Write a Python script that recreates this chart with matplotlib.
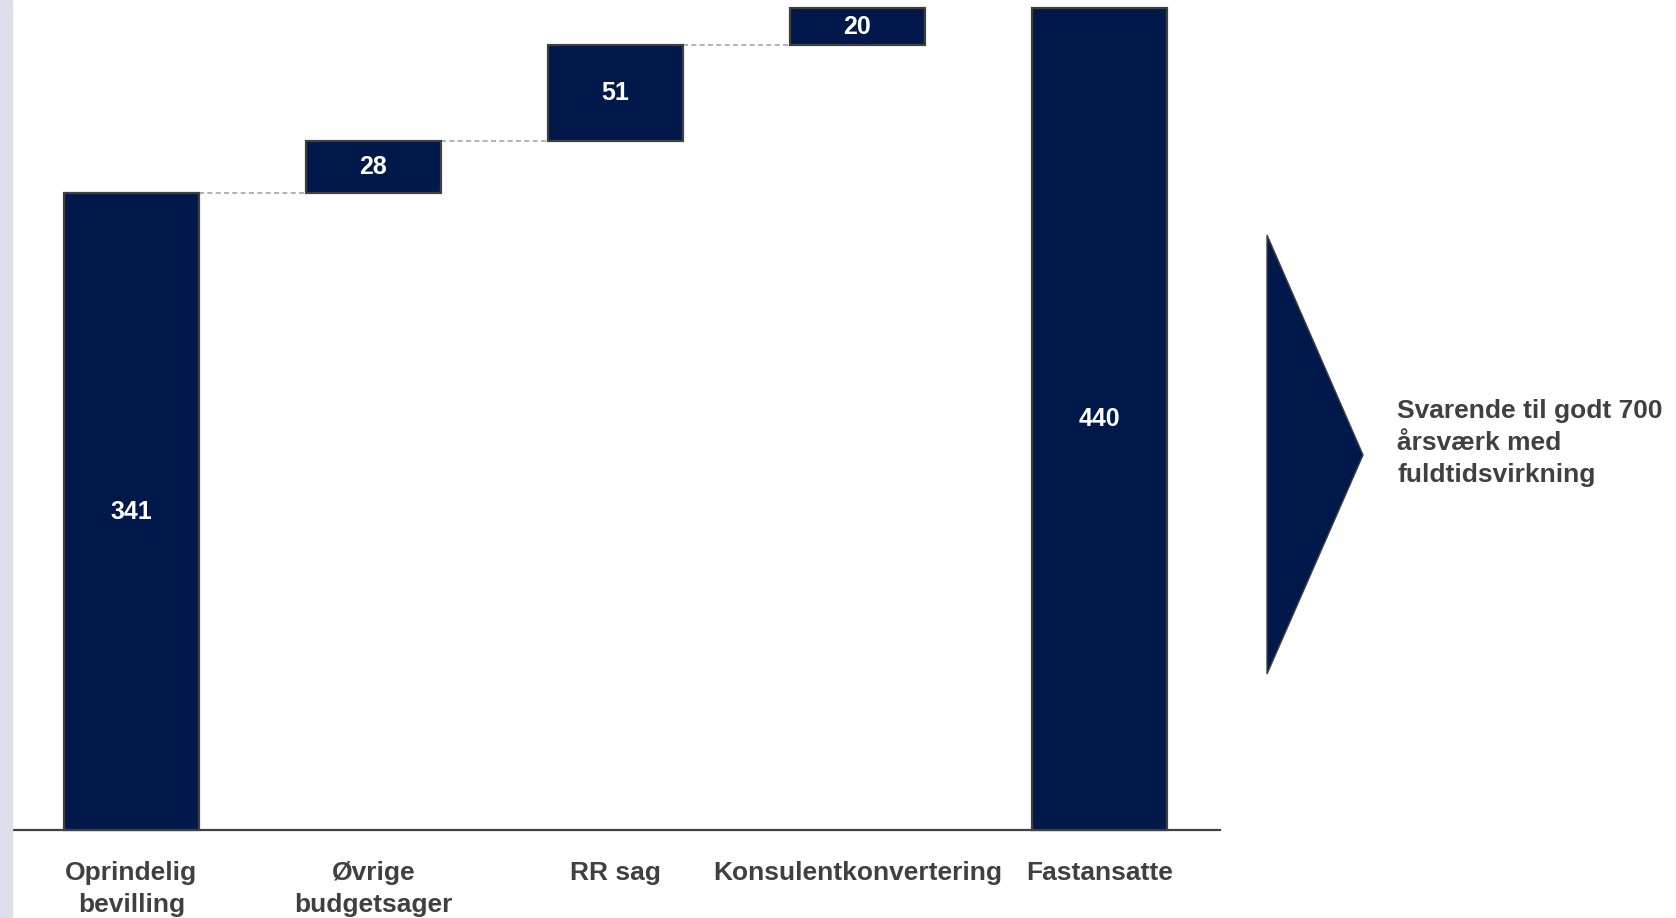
import numpy as np
import matplotlib.pyplot as plt
from matplotlib.patches import Polygon, Rectangle

plt.rcParams['font.family'] = ['Liberation Sans', 'DejaVu Sans']
plt.rcParams['font.weight'] = 'bold'

# data
categories = ['Oprindelig\nbevilling', 'Øvrige\nbudgetsager', 'RR sag',
              'Konsulentkonvertering', 'Fastansatte']
values = [341, 28, 51, 20, 440]
is_total = [True, False, False, False, True]
note = 'Svarende til godt 700\nårsværk med\nfuldtidsvirkning'

navy = '#00194a'
edge = '#404040'
txt_grey = '#404040'

# waterfall bottoms
bottoms = []
level = 0
for v, tot in zip(values, is_total):
    if tot:
        bottoms.append(0)
        level = v
    else:
        bottoms.append(level)
        level += v

W, H = 1676, 918
fig = plt.figure(figsize=(W / 100, H / 100), dpi=100)
fig.patches.append(Rectangle((0, 0), 12 / W, 1, transform=fig.transFigure,
                             color='#dde0ea', zorder=0))

ax = fig.add_axes([8 / W, (H - 830) / H, 1212 / W, 825 / H])
ax.patch.set_alpha(0)
x = np.arange(len(values))
width = 0.558
ax.bar(x, values, bottom=bottoms, width=width, color=navy, edgecolor=edge,
       linewidth=1.6, zorder=3, clip_on=False)

for i, (v, b) in enumerate(zip(values, bottoms)):
    ax.text(i, b + v / 2, str(v), ha='center', va='center', color='white',
            fontsize=18, fontweight='bold', zorder=4)

# connectors
for i in range(len(values) - 1):
    top = bottoms[i] + values[i]
    if is_total[i + 1]:
        continue
    ax.plot([i + width / 2, i + 1 - width / 2], [top, top], ls='--',
            dashes=(3, 2), color='#a6a6a6', lw=1.2, zorder=2)

ax.set_xlim(-0.51, 4.498)
ax.set_ylim(0, 825 / 1.868)
for s in ['top', 'right', 'left']:
    ax.spines[s].set_visible(False)
ax.spines['bottom'].set_color(edge)
ax.spines['bottom'].set_linewidth(1.6)
ax.set_yticks([])
ax.set_xticks(x)
ax.set_xticklabels(categories, fontsize=19, fontweight='bold', color=txt_grey,
                   linespacing=1.45)
ax.tick_params(axis='x', length=0, pad=22)

# arrow + note
tri = Polygon([[1267 / W, 1 - 235 / H], [1363 / W, 1 - 455 / H], [1267 / W, 1 - 674 / H]],
              closed=True, transform=fig.transFigure, facecolor=navy,
              edgecolor=edge, linewidth=1.0)
fig.patches.append(tri)
fig.text(1397 / W, 1 - 443 / H, note, ha='left', va='center', fontsize=19,
         fontweight='bold', color=txt_grey, linespacing=1.43)

fig.savefig('out.png', dpi=100, facecolor='white')
